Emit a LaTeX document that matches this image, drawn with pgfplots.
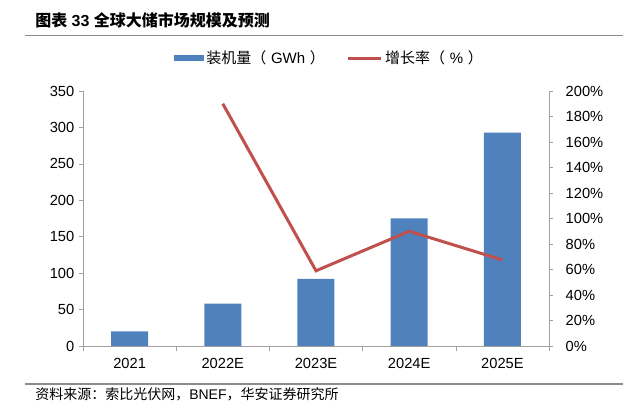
\documentclass[border=0pt]{standalone}
\usepackage{pgfplots}
\pgfplotsset{compat=1.18}
\usepackage{fontspec}
\setmainfont{Liberation Sans}
\newfontfamily\cjk{Noto Sans CJK SC}
\definecolor{barblue}{HTML}{4F81BD}
\definecolor{linered}{HTML}{C0504D}
\definecolor{axgray}{HTML}{A0A0A0}
\definecolor{rulegray}{HTML}{8C8C8C}

\pgfplotsset{
  chartbase/.style={
    at={(62.25pt,48pt)}, anchor=south west,
    scale only axis, width=349.5pt, height=191.25pt,
    xmin=-0.5, xmax=4.5,
    /pgf/number format/assume math mode=true,
    tick align=outside,
    major tick length=3pt, minor tick length=4pt,
    axis line style={-, draw=axgray},
    every tick/.style={draw=axgray},
    tick label style={font=\fontsize{11}{13}\selectfont, black},
  }
}

\begin{document}
\begin{tikzpicture}[x=0.75pt,y=0.75pt]
\path[use as bounding box] (0,0) rectangle (633,410);

% title and rules
\node[anchor=west, inner sep=0pt, font=\fontsize{12}{14}\selectfont\bfseries] at (35,390) {{\cjk 图表} 33 {\cjk 全球大储市场规模及预测}};
\draw[rulegray, line width=1.1pt] (25,374.3) -- (623,374.3);
\draw[rulegray, line width=1.1pt] (25,26) -- (623,26);
\node[anchor=west, inner sep=0pt, font=\fontsize{10.5}{12}\selectfont] at (35,16) {{\cjk 资料来源：索比光伏网，}BNEF{\cjk ，华安证券研究所}};

% bars, left axis
\begin{axis}[chartbase,
  ymin=0, ymax=350,
  axis x line*=bottom, axis y line*=left,
  xtick={0,...,4}, xticklabels={2021,2022E,2023E,2024E,2025E},
  minor xtick={-0.5,0.5,...,4.5},
  major x tick style={draw=none},
  xticklabel style={yshift=-3pt},
  ytick={0,50,...,350},
  legend columns=2,
  legend style={draw=none, fill=none, at={(0.53,1.129)}, anchor=center,
    font=\fontsize{11.25}{13}\selectfont,
    /tikz/every even column/.append style={column sep=14pt}},
]
\addplot[ybar, bar width=27.75pt, fill=barblue, draw=none,
  legend image code/.code={\fill[barblue] (0pt,-2pt) rectangle (22pt,2pt);}]
  coordinates {(0,20) (1,58) (2,92) (3,175) (4,293)};
\addlegendentry{{\cjk 装机量（}\hspace{3.5pt}GWh\hspace{3.5pt}{\cjk ）}}
\addlegendimage{legend image code/.code={\draw[linered, line width=2.25pt] (0pt,0pt) -- (25pt,0pt);}}
\addlegendentry{{\cjk 增长率（}\hspace{3.5pt}\%\hspace{3.5pt}{\cjk ）}}
\end{axis}

% growth line, right axis
\begin{axis}[chartbase,
  ymin=0, ymax=200,
  axis x line=none, axis y line*=right,
  ytick={0,20,...,200},
  yticklabel={\pgfmathprintnumber[fixed,precision=0]{\tick}\%},
  yticklabel style={xshift=6pt},
]
\addplot[linered, line width=2.25pt, mark=none]
  coordinates {(1,190) (2,59) (3,90) (4,67.5)};
\end{axis}
\end{tikzpicture}
\end{document}
